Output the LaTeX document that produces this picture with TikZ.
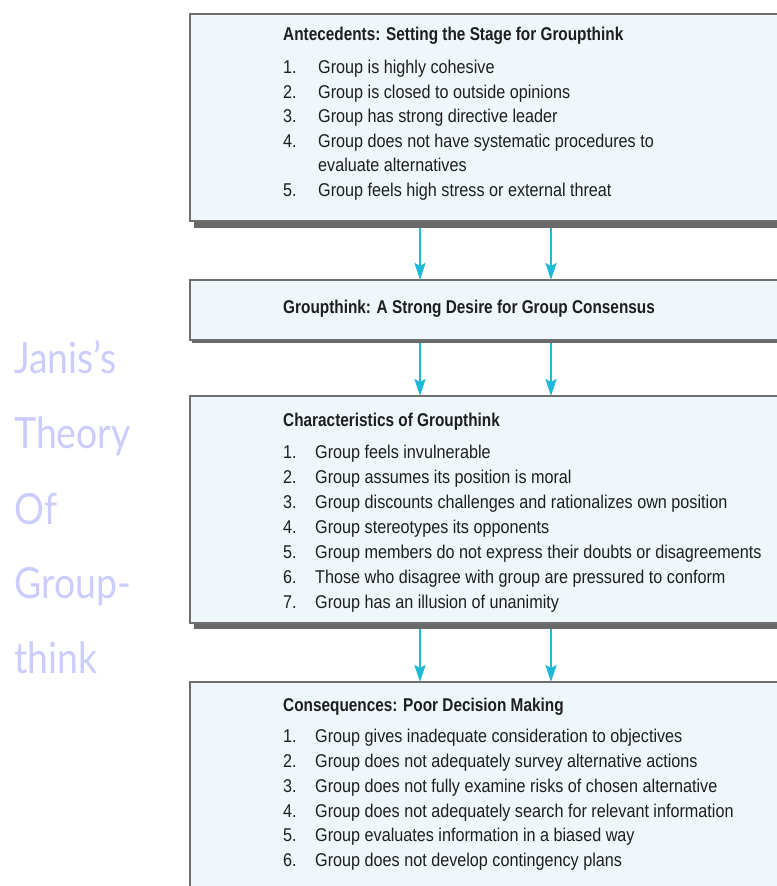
\documentclass[tikz,border=0pt]{standalone}
\usepackage{fontspec}
\setmainfont{Liberation Sans}
\newfontfamily\bodyf[FakeStretch=0.875]{Liberation Sans}
\newfontfamily\headf[FakeStretch=0.83]{Liberation Sans}
\newfontfamily\sidef[FakeStretch=0.87]{Lato}
\usetikzlibrary{arrows.meta}
\definecolor{boxfill}{RGB}{239,247,251}
\definecolor{boxline}{RGB}{110,110,110}
\definecolor{shadowc}{RGB}{105,105,105}
\definecolor{arrowc}{RGB}{30,185,215}
\definecolor{sidec}{RGB}{204,204,255}
\definecolor{textc}{RGB}{30,30,30}
\begin{document}
\begin{tikzpicture}[x=1bp,y=-1bp,
  panel/.style={draw=boxline, line width=1.3bp, fill=boxfill, rectangle, anchor=north west, inner sep=0pt, outer sep=0pt, minimum width=620bp},
  dropshadow/.style={fill=shadowc, draw=none},
  head/.style={anchor=base west, inner sep=0pt, text=textc, font=\headf\bfseries\fontsize{18.5bp}{20bp}\selectfont},
  item/.style={anchor=base west, inner sep=0pt, text=textc, font=\bodyf\fontsize{18.5bp}{20bp}\selectfont},
  side/.style={anchor=base west, inner sep=0pt, text=sidec, font=\sidef\fontsize{43bp}{50bp}\selectfont},
  flow/.style={draw=arrowc, line width=2.4bp, -{Stealth[width=11bp,length=17bp,inset=3bp]}}]
\useasboundingbox (0,0) rectangle (777,886);
\clip (0,0) rectangle (777,886);
\fill[white] (0,0) rectangle (777,886);

% shadows
\fill[dropshadow] (194,220) rectangle (800,228);
\fill[dropshadow] (192,339) rectangle (800,342.5);
\fill[dropshadow] (194,622) rectangle (800,629);

% boxes
\node[panel, minimum height=207bp] (box1) at (190,14) {};
\node[panel, minimum height=60bp] (box2) at (190,280) {};
\node[panel, minimum height=227bp] (box3) at (190,396) {};
\node[panel, minimum height=260bp] (box4) at (190,682) {};

% arrows
\coordinate (cl) at (420,0);
\coordinate (cr) at (551,0);
\coordinate (s1) at (300,228);
\coordinate (s2) at (300,342.5);
\coordinate (s3) at (300,629);
\draw[flow] (cl |- s1) -- (cl |- box2.north);
\draw[flow] (cr |- s1) -- (cr |- box2.north);
\draw[flow] (cl |- s2) -- (cl |- box3.north);
\draw[flow] (cr |- s2) -- (cr |- box3.north);
\draw[flow] (cl |- s3) -- (cl |- box4.north);
\draw[flow] (cr |- s3) -- (cr |- box4.north);

% box 1
\node[head] (h1) at (283,40) {Antecedents: Setting the Stage for Groupthink};
\foreach \y/\num/\txt [count=\i] in {
  73.5/1./Group is highly cohesive,
  98/2./Group is closed to outside opinions,
  122.5/3./Group has strong directive leader,
  147/4./Group does not have systematic procedures to,
  196/5./Group feels high stress or external threat}{
  \node[item] (an\i) at (283,\y) {\num};
  \node[item] (at\i) at (318,\y) {\txt};
}
\node[item] (at4b) at (318,171.5) {evaluate alternatives};

% box 2
\node[head] (h2) at (283,313.5) {Groupthink: A Strong Desire for Group Consensus};

% box 3
\node[head] (h3) at (283,426.5) {Characteristics of Groupthink};
\foreach \y/\num/\txt [count=\i] in {
  458/1./Group feels invulnerable,
  483/2./Group assumes its position is moral,
  508/3./Group discounts challenges and rationalizes own position,
  533/4./Group stereotypes its opponents,
  558/5./Group members do not express their doubts or disagreements,
  583/6./Those who disagree with group are pressured to conform,
  608/7./Group has an illusion of unanimity}{
  \node[item] (cn\i) at (283,\y) {\num};
  \node[item] (ct\i) at (315,\y) {\txt};
}

% box 4
\node[head] (h4) at (283,711) {Consequences: Poor Decision Making};
\foreach \y/\num/\txt [count=\i] in {
  742/1./Group gives inadequate consideration to objectives,
  767/2./Group does not adequately survey alternative actions,
  792/3./Group does not fully examine risks of chosen alternative,
  817/4./Group does not adequately search for relevant information,
  841.5/5./Group evaluates information in a biased way,
  866/6./Group does not develop contingency plans}{
  \node[item] (qn\i) at (283,\y) {\num};
  \node[item] (qt\i) at (315,\y) {\txt};
}

% side title
\node[side] (t1) at (14,373) {Janis’s};
\node[side] (t2) at (14,448) {Theory};
\node[side] (t3) at (14,524) {Of};
\node[side] (t4) at (14,598) {Group-};
\node[side] (t5) at (14,673) {think};
\end{tikzpicture}
\end{document}
